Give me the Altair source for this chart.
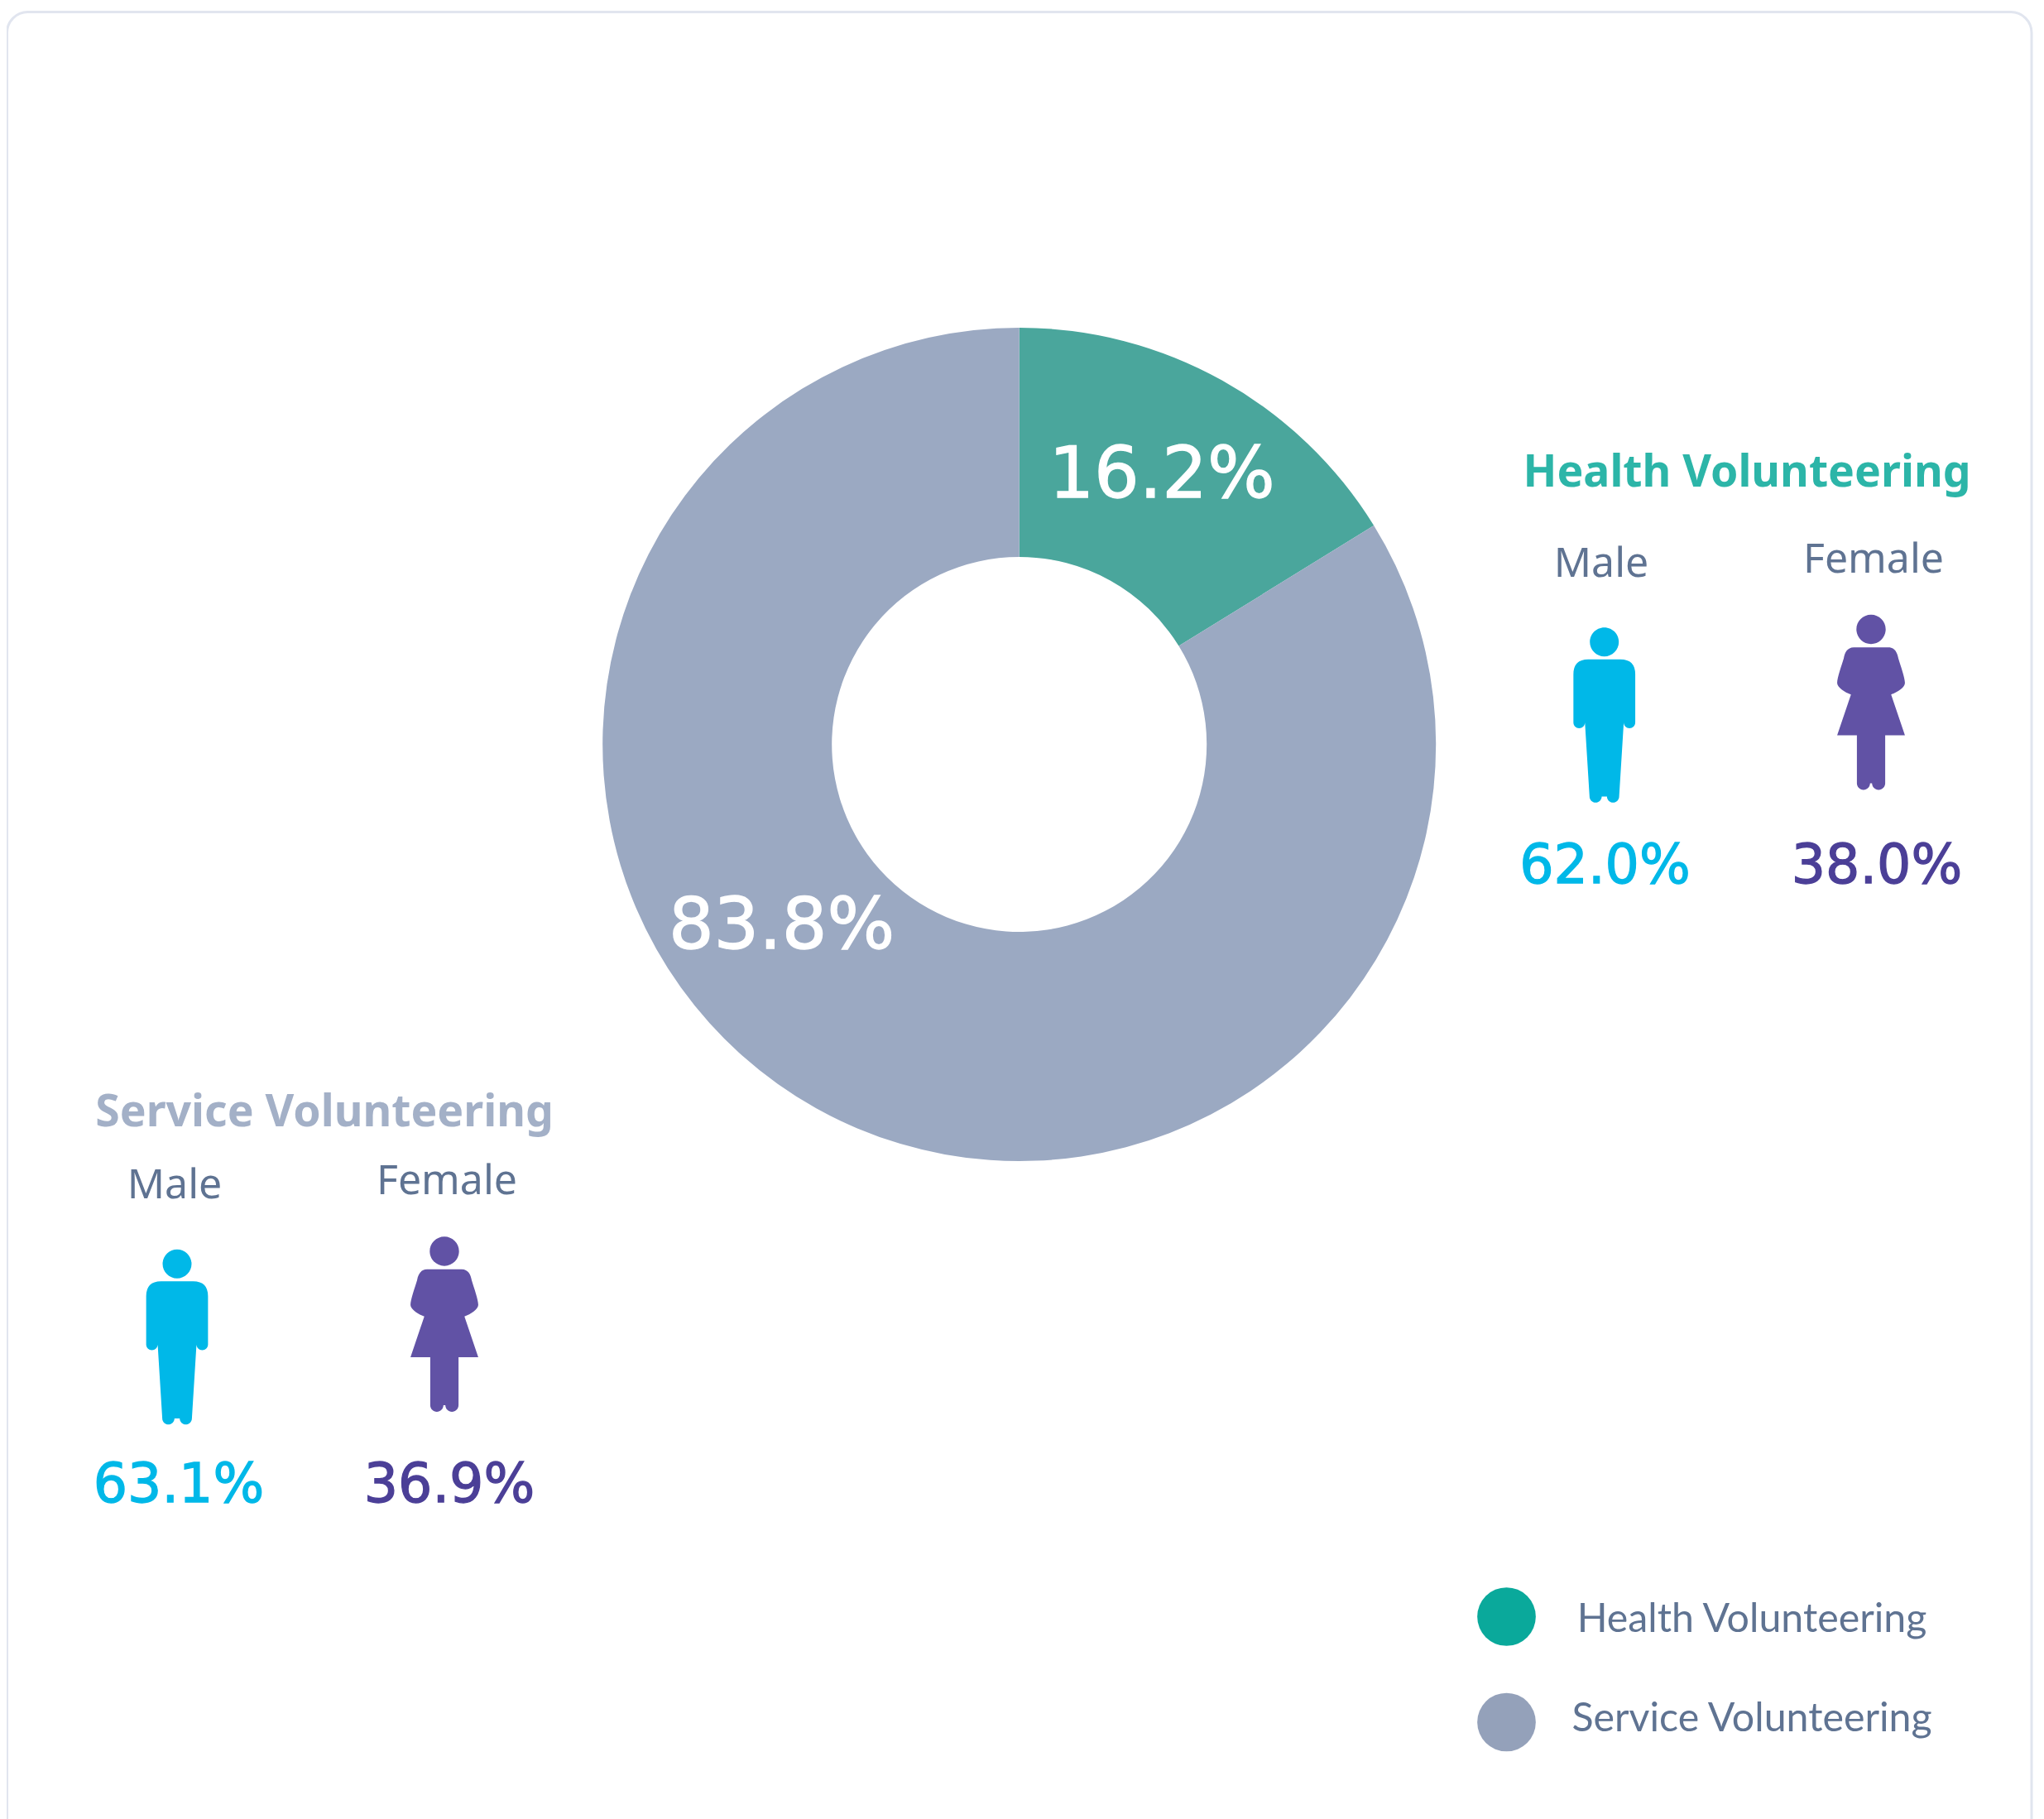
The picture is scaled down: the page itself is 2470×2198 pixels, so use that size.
import altair as alt
import pandas as pd

# ---- values ----
categories = ["Health Volunteering", "Service Volunteering"]
shares = [16.2, 83.8]
male_share = [62.0, 63.1]
female_share = [38.0, 36.9]
gender_labels = ["Male", "Female"]

# ---- styles ----
ARC_COLORS = ["#4aa69c", "#9ba9c2"]
LEGEND_COLORS = ["#0aa99b", "#94a1ba"]
TITLE_COLORS = ["#2cb5a8", "#a3b0c7"]
LABEL = "#5f7392"
CYAN = "#00b8e8"
PURPLE = "#4b3f97"
ICON_PURPLE = "#6152a5"
NUMFONT = "DejaVu Sans"
LFONT = "Noto Sans"

MAN = ("M-.176 -.884A.176 .176 0 1 1 .176 -.884A.176 .176 0 1 1 -.176 -.884Z"
       "M-.196 -.672L.196 -.672Q.376 -.672 .376 -.49L.376 .096A.07 .07 0 0 1 .236 .096"
       "L.18 .996A.074 .074 0 0 1 .032 .996L-.032 .996A.074 .074 0 0 1 -.18 .996"
       "L-.236 .096A.07 .07 0 0 1 -.376 .096L-.376 -.49Q-.376 -.672 -.196 -.672Z")
WOMAN = ("M-.178 -.886A.178 .178 0 1 1 .178 -.886A.178 .178 0 1 1 -.178 -.886Z"
         "M-.21 -.666L.21 -.666C.29 -.666 .32 -.6 .332 -.534C.36 -.44 .412 -.3 .412 -.234"
         "C.412 -.18 .32 -.12 .244 -.094L.412 .402L.172 .402L.172 .986"
         "A.08 .08 0 0 1 .012 .986L-.012 .986A.08 .08 0 0 1 -.172 .986L-.172 .402"
         "L-.412 .402L-.244 -.094C-.32 -.12 -.412 -.18 -.412 -.234C-.412 -.3 -.36 -.44 -.332 -.534"
         "C-.32 -.6 -.29 -.666 -.21 -.666Z")


def px(v):
    return alt.value(v - 8)


def label(text, x, y, size, color, weight="normal", font=LFONT):
    return alt.Chart(pd.DataFrame({"t": [text]})).mark_text(
        font=font, fontSize=size, fontWeight=weight, color=color,
        align="center", baseline="alphabetic"
    ).encode(x=px(x), y=px(y), text="t:N")


def number(text, x, y, size, color):
    return alt.Chart(pd.DataFrame({"t": [text]})).mark_text(
        font=NUMFONT, fontSize=size, color=color, stroke=color, strokeWidth=1.3,
        align="center", baseline="alphabetic"
    ).encode(x=px(x), y=px(y), text="t:N")


def icon(path, x, y, color):
    return alt.Chart(pd.DataFrame({"t": [path[:1]]})).mark_point(
        shape=path, size=39500, filled=True, fill=color, opacity=1, strokeWidth=0
    ).encode(x=px(x), y=px(y))


frame = alt.Chart(pd.DataFrame({"t": [0]})).mark_rect(
    fill="white", stroke="#e1e5ef", strokeWidth=3, cornerRadius=25
).encode(x=px(8.5), x2=px(2455), y=px(14.5), y2=px(2225))

donut = alt.Chart(pd.DataFrame({"category": categories, "share": shares})).mark_arc(
    outerRadius=503.5, innerRadius=226.5
).encode(
    theta=alt.Theta("share:Q", stack=True),
    order=alt.Order("category:N"),
    color=alt.Color("category:N", legend=None,
                    scale=alt.Scale(domain=categories, range=ARC_COLORS)),
    x=px(1231.7), y=px(899.5),
)

layers = [frame, donut,
          number(f"{shares[0]}%", 1404, 601, 86, "white"),
          number(f"{shares[1]}%", 944.5, 1146, 86, "white")]

layers += [
    label(categories[0], 2111, 588, 53.5, TITLE_COLORS[0], "bold"),
    label(gender_labels[0], 1935, 696.7, 50, LABEL),
    label(gender_labels[1], 2264, 692.4, 50, LABEL),
    icon(MAN, 1938.7, 863.5, CYAN),
    icon(WOMAN, 2261, 848.5, ICON_PURPLE),
    number(f"{male_share[0]:.1f}%", 1939.5, 1067, 65, CYAN),
    number(f"{female_share[0]:.1f}%", 2268, 1067, 65, PURPLE),

    label(categories[1], 392, 1361, 53.5, TITLE_COLORS[1], "bold"),
    label(gender_labels[0], 211, 1448, 50, LABEL),
    label(gender_labels[1], 540, 1443, 50, LABEL),
    icon(MAN, 214, 1615, CYAN),
    icon(WOMAN, 537, 1600, ICON_PURPLE),
    number(f"{male_share[1]:.1f}%", 216, 1815, 65, CYAN),
    number(f"{female_share[1]:.1f}%", 543, 1815, 65, PURPLE),
]

for name, colour, cy, base in zip(categories, LEGEND_COLORS, [1953.5, 2081], [1972, 2092]):
    layers.append(alt.Chart(pd.DataFrame({"t": [name]})).mark_circle(
        size=5000, color=colour, opacity=1
    ).encode(x=px(1820.5), y=px(cy)))
    layers.append(label(name, 2117, base, 48.3, LABEL, font="Lato"))

chart = alt.layer(*layers).properties(
    width=2454, height=2190, padding=0, background="white",
    autosize=alt.AutoSizeParams(type="none"),
).configure_view(stroke=None)

chart.save("out.html", embed_options={"renderer": "svg", "actions": False})
